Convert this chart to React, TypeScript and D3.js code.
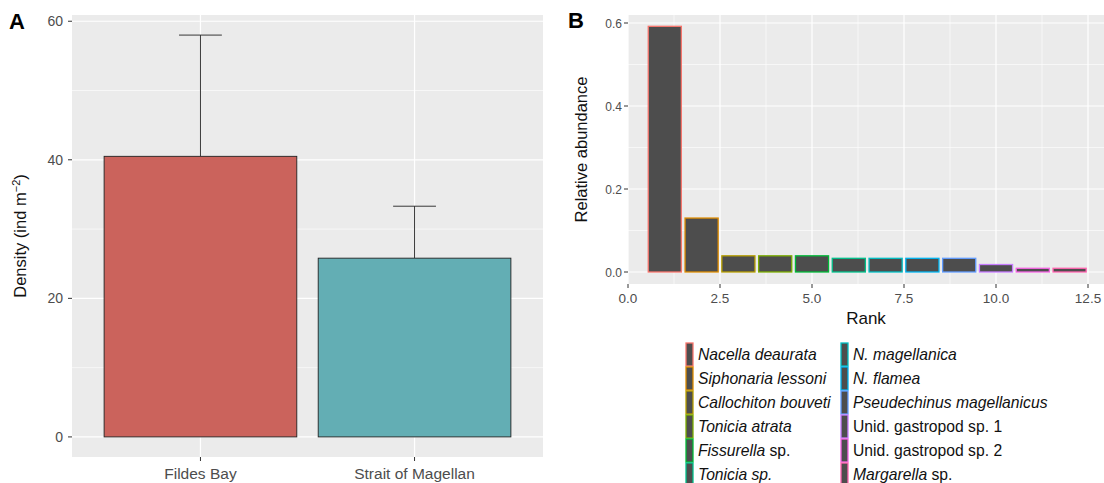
import React from "react";
import { scaleLinear, range } from "d3";

// panel A
const sites = ["Fildes Bay", "Strait of Magellan"];
const density = [40.5, 25.8];
const densitySE = [17.5, 7.5];
const siteColors = ["#CB635C", "#63AEB4"];
const densityTicks = [0, 20, 40, 60];

// panel B
const species = [
  "Nacella deaurata",
  "Siphonaria lessoni",
  "Callochiton bouveti",
  "Tonicia atrata",
  "Fissurella sp.",
  "Tonicia sp.",
  "N. magellanica",
  "N. flamea",
  "Pseudechinus magellanicus",
  "Unid. gastropod sp. 1",
  "Unid. gastropod sp. 2",
  "Margarella sp.",
];
// italic part of each label (the rest is upright)
const speciesItalic = [
  "Nacella deaurata",
  "Siphonaria lessoni",
  "Callochiton bouveti",
  "Tonicia atrata",
  "Fissurella",
  "Tonicia sp.",
  "N. magellanica",
  "N. flamea",
  "Pseudechinus magellanicus",
  "",
  "",
  "Margarella",
];
const relAbundance = [0.592, 0.13, 0.039, 0.039, 0.039, 0.033, 0.033, 0.033, 0.033, 0.018, 0.009, 0.009];
const speciesColors = [
  "#F8766D", "#DE8C00", "#B79F00", "#7CAE00", "#00BA38", "#00C08B",
  "#00BFC4", "#00B4F0", "#619CFF", "#C77CFF", "#F564E3", "#FF64B0",
];
const rankTicks = [0, 2.5, 5, 7.5, 10, 12.5];
const abundTicks = [0, 0.2, 0.4, 0.6];

const FONT = "'Liberation Sans', Arial, Helvetica, sans-serif";
const TICK = "#4D4D4D";
const PANEL = "#EBEBEB";

const PanelA = () => {
  const left = 72, right = 543, top = 15, bottom = 457;
  const x = scaleLinear().domain([0.4, 2.6]).range([left, right]);
  const y = scaleLinear().domain([-2.9, 60.9]).range([bottom, top]);
  const bw = 0.45;
  const minor = [10, 30, 50];
  return (
    <g>
      <rect x={left} y={top} width={right - left} height={bottom - top} fill={PANEL} />
      {minor.map((v) => (
        <line key={"m" + v} x1={left} x2={right} y1={y(v)} y2={y(v)} stroke="#fff" strokeWidth={0.6} />
      ))}
      {densityTicks.map((v) => (
        <line key={"g" + v} x1={left} x2={right} y1={y(v)} y2={y(v)} stroke="#fff" strokeWidth={1.2} />
      ))}
      {sites.map((s, i) => (
        <line key={"gx" + s} x1={x(i + 1)} x2={x(i + 1)} y1={top} y2={bottom} stroke="#fff" strokeWidth={1.2} />
      ))}
      {sites.map((s, i) => (
        <g key={s}>
          <line x1={x(i + 1)} x2={x(i + 1)} y1={y(density[i])} y2={y(density[i] + densitySE[i])} stroke="#222" strokeWidth={0.9} />
          <line x1={x(i + 0.9)} x2={x(i + 1.1)} y1={y(density[i] + densitySE[i])} y2={y(density[i] + densitySE[i])} stroke="#222" strokeWidth={0.9} />
          <rect
            x={x(i + 1 - bw)}
            y={y(density[i])}
            width={x(i + 1 + bw) - x(i + 1 - bw)}
            height={y(0) - y(density[i])}
            fill={siteColors[i]}
            stroke="#222"
            strokeWidth={0.9}
          />
        </g>
      ))}
      {densityTicks.map((v) => (
        <g key={"t" + v}>
          <line x1={left - 4} x2={left} y1={y(v)} y2={y(v)} stroke="#333" strokeWidth={1} />
          <text x={left - 9} y={y(v) + 5} textAnchor="end" fontSize={14} fill={TICK}>{v}</text>
        </g>
      ))}
      {sites.map((s, i) => (
        <g key={"xt" + s}>
          <line x1={x(i + 1)} x2={x(i + 1)} y1={bottom} y2={bottom + 4} stroke="#333" strokeWidth={1} />
          <text x={x(i + 1)} y={bottom + 22} textAnchor="middle" fontSize={15.5} fill={TICK}>{s}</text>
        </g>
      ))}
      <text transform={`translate(26,${(top + bottom) / 2}) rotate(-90)`} textAnchor="middle" fontSize={16.5} fill="#111">
        Density (ind m<tspan dy={-6} fontSize={11}>−2</tspan><tspan dy={6}>)</tspan>
      </text>
      <text x={9} y={29} fontSize={22} fontWeight="bold" fill="#000">A</text>
    </g>
  );
};

const PanelB = () => {
  const left = 628, right = 1104, top = 15, bottom = 284;
  const x = scaleLinear().domain([0, 12.5]).range([628, 1088]);
  const y = scaleLinear().domain([0, 0.6]).range([272, 23]);
  const minorX = range(1.25, 13, 2.5);
  const minorY = [0.1, 0.3, 0.5];
  const hw = 0.45;
  return (
    <g>
      <rect x={left} y={top} width={right - left} height={bottom - top} fill={PANEL} />
      {minorY.map((v) => (
        <line key={"my" + v} x1={left} x2={right} y1={y(v)} y2={y(v)} stroke="#fff" strokeWidth={0.6} />
      ))}
      {minorX.map((v) => (
        <line key={"mx" + v} x1={x(v)} x2={x(v)} y1={top} y2={bottom} stroke="#fff" strokeWidth={0.6} />
      ))}
      {abundTicks.map((v) => (
        <line key={"gy" + v} x1={left} x2={right} y1={y(v)} y2={y(v)} stroke="#fff" strokeWidth={1.2} />
      ))}
      {rankTicks.map((v) => (
        <line key={"gx" + v} x1={x(v)} x2={x(v)} y1={top} y2={bottom} stroke="#fff" strokeWidth={1.2} />
      ))}
      {relAbundance.map((v, i) => (
        <rect
          key={species[i]}
          x={x(i + 1 - hw)}
          y={y(v)}
          width={x(i + 1 + hw) - x(i + 1 - hw)}
          height={y(0) - y(v)}
          fill="#4D4D4D"
          stroke={speciesColors[i]}
          strokeWidth={1.3}
        />
      ))}
      {abundTicks.map((v) => (
        <g key={"t" + v}>
          <line x1={left - 4} x2={left} y1={y(v)} y2={y(v)} stroke="#333" strokeWidth={1} />
          <text x={left - 6} y={y(v) + 4.5} textAnchor="end" fontSize={12} fill={TICK}>{v.toFixed(1)}</text>
        </g>
      ))}
      {rankTicks.map((v) => (
        <g key={"xt" + v}>
          <line x1={x(v)} x2={x(v)} y1={bottom} y2={bottom + 4} stroke="#333" strokeWidth={1} />
          <text x={x(v)} y={bottom + 19} textAnchor="middle" fontSize={13.5} fill={TICK}>{v.toFixed(1)}</text>
        </g>
      ))}
      <text x={(left + right) / 2} y={324} textAnchor="middle" fontSize={17} fill="#111">Rank</text>
      <text transform={`translate(587,${(top + bottom) / 2}) rotate(-90)`} textAnchor="middle" fontSize={16.5} fill="#111">
        Relative abundance
      </text>
      <text x={568} y={28} fontSize={22} fontWeight="bold" fill="#000">B</text>
      {species.map((s, i) => {
        const col = Math.floor(i / 6);
        const row = i % 6;
        const kx = col === 0 ? 686 : 841;
        const ky = 343 + row * 24;
        const it = speciesItalic[i];
        const rest = s.slice(it.length);
        return (
          <g key={"lg" + s}>
            <rect x={kx} y={ky} width={7} height={23} fill="#4D4D4D" stroke={speciesColors[i]} strokeWidth={1.3} />
            <text x={kx + 12} y={ky + 17} fontSize={15.7} fill="#111">
              {it && <tspan fontStyle="italic">{it}</tspan>}
              {rest && <tspan>{rest}</tspan>}
            </text>
          </g>
        );
      })}
    </g>
  );
};

export default function App() {
  return (
    <svg
      width={1104}
      height={483}
      style={{ position: "absolute", left: 0, top: 0, background: "#fff" }}
      fontFamily={FONT}
    >
      <PanelA />
      <PanelB />
    </svg>
  );
}
